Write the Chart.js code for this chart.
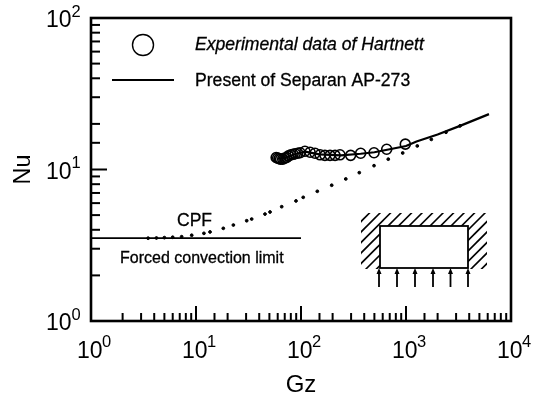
<!DOCTYPE html>
<html>
<head>
<meta charset="utf-8">
<style>
  html, body { margin: 0; padding: 0; background: #fff; }
  canvas { display: block; }
</style>
<script src="https://cdn.jsdelivr.net/npm/chart.js@4"></script>
</head>
<body>
<canvas id="myChart" width="536" height="400"></canvas>
<script>
// values
let hartnettGz = [58, 60, 62, 64, 67, 70, 73, 76, 80, 84, 88, 93, 98, 109, 122, 136, 152, 169, 189, 211, 235, 297, 370, 496, 655, 985],
  hartnettNu = [12.0, 11.9, 11.8, 11.7, 11.7, 11.9, 12.0, 12.3, 12.5, 12.6, 12.7, 12.8, 12.9, 13.2, 13.0, 12.8, 12.5, 12.4, 12.4, 12.4, 12.5, 12.4, 12.8, 12.9, 13.6, 14.7],
  presentGz = [60, 70, 90, 110, 150, 240, 370, 500, 700, 1000, 1260, 2000, 3270, 6170],
  presentNu = [11.8, 11.9, 12.7, 13.1, 12.6, 12.4, 12.7, 13.0, 13.6, 14.3, 15.3, 17.0, 19.4, 23.2],
  limitGz = [1, 100],
  limitNu = [3.52, 3.52],
  cpfGz = [3.5, 4.2, 5, 6, 7.3, 9.1, 11.9, 13.6, 18.2, 22.7, 30.4, 33.9, 45.4, 50.7, 65.5, 89.6, 105, 143, 196, 267, 359, 496, 678, 930, 1281, 1742, 2404, 3268],
  cpfNu = [3.52, 3.53, 3.55, 3.57, 3.6, 3.68, 3.79, 3.87, 4.09, 4.3, 4.59, 4.71, 5.08, 5.24, 5.68, 6.2, 6.55, 7.18, 7.87, 8.66, 9.53, 10.6, 11.7, 12.85, 14.3, 15.8, 17.6, 19.4],
  xTickValues = [1, 10, 100, 1000, 10000],
  xTickPowers = ["0", "1", "2", "3", "4"],
  yTickValues = [1, 10, 100],
  yTickPowers = ["0", "1", "2"];

const font = "'Liberation Sans', Arial, sans-serif";

function toPoints(xs, ys) {
  return xs.map((x, i) => ({ x: x, y: ys[i] }));
}

function isPower(v) {
  let l = Math.log10(v);
  return Math.abs(l - Math.round(l)) < 1e-6;
}

// the scan has a slightly heavy look, a thin stroke on top gets close to it
function heavyText(c, text, x, y) {
  c.fillText(text, x, y);
  c.strokeText(text, x, y);
}

// ticks point inwards in the original, and the box is closed on all four sides
const frame = {
  id: "frame",
  afterDatasetsDraw(chart) {
    let c = chart.ctx, a = chart.chartArea;
    let sx = chart.scales.x, sy = chart.scales.y;
    c.save();
    c.strokeStyle = "#000";
    c.fillStyle = "#000";
    c.lineWidth = 2.6;
    c.strokeRect(a.left, a.top, a.right - a.left, a.bottom - a.top);
    c.lineWidth = 2;
    sx.ticks.forEach((t) => {
      let px = sx.getPixelForValue(t.value);
      c.beginPath();
      c.moveTo(px, a.bottom);
      c.lineTo(px, a.bottom - (isPower(t.value) ? 15 : 8));
      c.stroke();
    });
    sy.ticks.forEach((t) => {
      let py = sy.getPixelForValue(t.value);
      c.beginPath();
      c.moveTo(a.left, py);
      c.lineTo(a.left + (isPower(t.value) ? 16 : 9), py);
      c.stroke();
    });

    // tick labels, "10" with a raised power
    c.textBaseline = "middle";
    c.textAlign = "left";
    xTickValues.forEach((v, i) => {
      let px = sx.getPixelForValue(v);
      c.font = "23px " + font;
      c.fillText("10", px - 14, a.bottom + 31);
      c.font = "16.5px " + font;
      c.fillText(xTickPowers[i], px + 11, a.bottom + 21);
    });
    yTickValues.forEach((v, i) => {
      let py = sy.getPixelForValue(v);
      c.font = "23px " + font;
      c.fillText("10", 46, py + 3);
      c.font = "16.5px " + font;
      c.fillText(yTickPowers[i], 71.5, py - 6);
    });
    c.restore();
  },
};

// legend samples, notes and the little duct sketch
const notes = {
  id: "notes",
  afterDraw(chart) {
    let c = chart.ctx;
    c.save();
    c.fillStyle = "#000";
    c.strokeStyle = "#000";
    c.textBaseline = "middle";

    c.lineWidth = 1.4;
    c.beginPath();
    c.arc(143, 45, 10.5, 0, Math.PI * 2);
    c.stroke();
    c.lineWidth = 2;
    c.beginPath();
    c.moveTo(112, 80);
    c.lineTo(174, 80);
    c.stroke();

    c.lineWidth = 0.3;
    c.font = "italic 17.6px " + font;
    heavyText(c, "Experimental data of Hartnett", 195, 45);
    c.font = "17.6px " + font;
    heavyText(c, "Present of Separan AP-273", 195, 81);
    c.font = "17.5px " + font;
    heavyText(c, "CPF", 177, 221);
    c.font = "16px " + font;
    heavyText(c, "Forced convection limit", 120, 259);

    // hatching around the duct
    c.save();
    c.beginPath();
    c.rect(361, 213, 126, 13);
    c.rect(361, 213, 19, 56);
    c.rect(468, 213, 19, 56);
    c.clip();
    c.lineWidth = 1.6;
    for (let x = 300; x < 500; x += 10.5) {
      c.beginPath();
      c.moveTo(x, 272);
      c.lineTo(x + 62, 210);
      c.stroke();
    }
    c.restore();

    c.lineWidth = 1.8;
    c.strokeRect(380, 226, 88, 42);
    [379, 397, 415, 433, 450.5, 468].forEach((x) => {
      c.beginPath();
      c.moveTo(x, 287);
      c.lineTo(x, 272);
      c.stroke();
      c.beginPath();
      c.moveTo(x, 268);
      c.lineTo(x - 2.5, 274);
      c.lineTo(x + 2.5, 274);
      c.closePath();
      c.fill();
    });
    c.restore();
  },
};

var ctx = document.getElementById("myChart").getContext("2d");
var myChart = new Chart(ctx, {
  type: "scatter",
  data: {
    datasets: [
      {
        label: "Forced convection limit",
        data: toPoints(limitGz, limitNu),
        showLine: true,
        borderColor: "#000",
        borderWidth: 1.8,
        pointRadius: 0,
      },
      {
        label: "CPF",
        data: toPoints(cpfGz, cpfNu),
        showLine: false,
        backgroundColor: "#000",
        borderColor: "#000",
        pointRadius: 1.4,
      },
      {
        label: "Present of Separan AP-273",
        data: toPoints(presentGz, presentNu),
        showLine: true,
        borderColor: "#000",
        borderWidth: 2.2,
        pointRadius: 0,
      },
      {
        label: "Experimental data of Hartnett",
        data: toPoints(hartnettGz, hartnettNu),
        showLine: false,
        backgroundColor: "transparent",
        borderColor: "#000",
        borderWidth: 1.6,
        pointRadius: 5,
      },
    ],
  },
  options: {
    responsive: false,
    animation: false,
    layout: { padding: { top: 18, right: 25, left: 0, bottom: 0 } },
    plugins: { legend: { display: false }, tooltip: { enabled: false } },
    scales: {
      x: {
        type: "logarithmic",
        min: 1,
        max: 10000,
        afterFit: (s) => { s.height = 79; },
        grid: { display: false },
        border: { display: false },
        title: { display: true, text: "Gz", color: "#000", font: { family: font, size: 24 }, padding: { top: 4, bottom: 0 } },
        ticks: { display: false, autoSkip: false },
      },
      y: {
        type: "logarithmic",
        min: 1,
        max: 100,
        afterFit: (s) => { s.width = 91; },
        grid: { display: false },
        border: { display: false },
        title: { display: true, text: "Nu", color: "#000", font: { family: font, size: 23.5 }, padding: { top: 9, bottom: 4 } },
        ticks: { display: false, autoSkip: false },
      },
    },
  },
  plugins: [frame, notes],
});
</script>
</body>
</html>
